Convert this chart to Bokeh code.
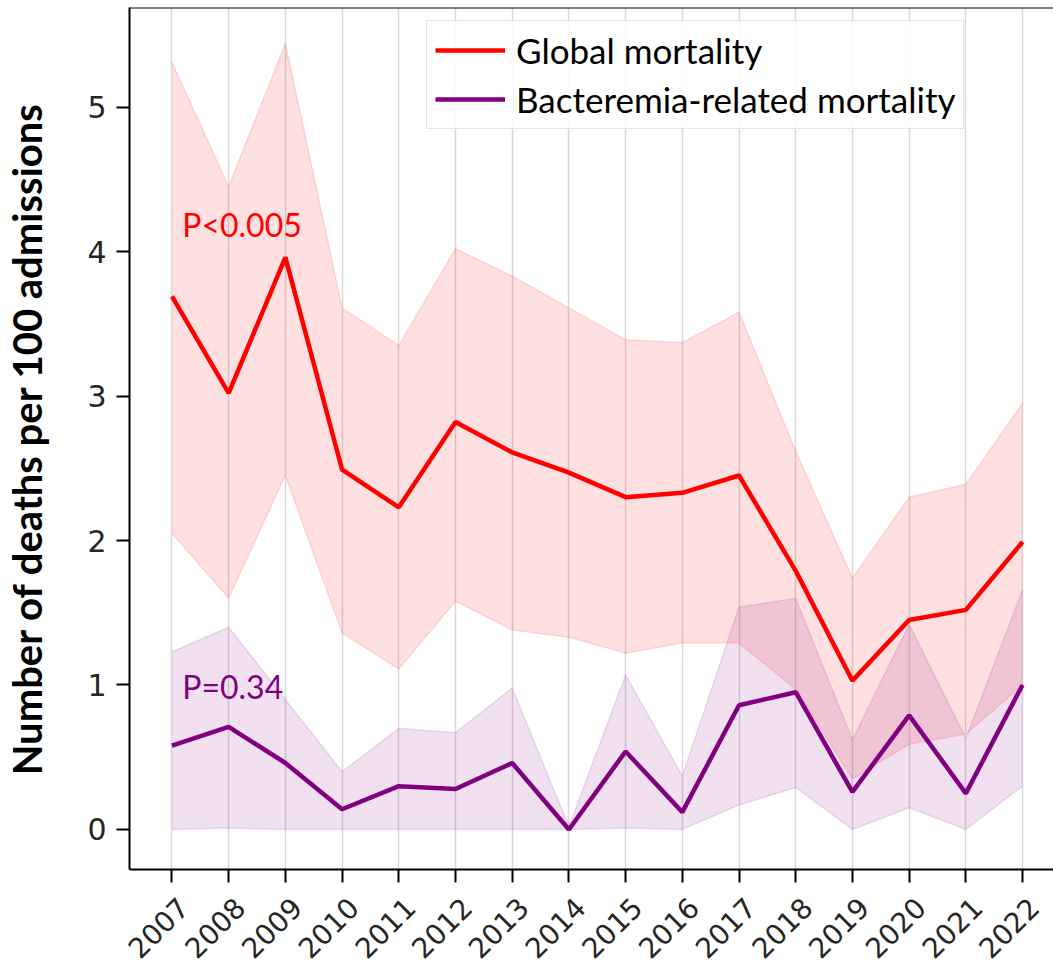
import math
from bokeh.plotting import figure
from bokeh.models import (ColumnDataSource, Range1d, FixedTicker, Span, Label,
                          LinearAxis, Legend, LegendItem)
from bokeh.embed import file_html
from bokeh.resources import INLINE

# ---------------- data ----------------
years = [2007, 2008, 2009, 2010, 2011, 2012, 2013, 2014,
         2015, 2016, 2017, 2018, 2019, 2020, 2021, 2022]
year_labels = [str(y) for y in years]

global_mort = [3.69, 3.02, 3.96, 2.49, 2.23, 2.82, 2.61, 2.47,
               2.30, 2.33, 2.45, 1.79, 1.03, 1.45, 1.52, 1.99]
global_upper = [5.31, 4.45, 5.44, 3.61, 3.35, 4.02, 3.83, 3.61,
                3.39, 3.37, 3.58, 2.62, 1.74, 2.30, 2.39, 2.95]
global_lower = [2.05, 1.60, 2.45, 1.36, 1.11, 1.58, 1.38, 1.33,
                1.22, 1.29, 1.29, 0.97, 0.35, 0.59, 0.66, 1.00]

bact_mort = [0.58, 0.71, 0.46, 0.14, 0.30, 0.28, 0.46, 0.00,
             0.54, 0.12, 0.86, 0.95, 0.26, 0.79, 0.25, 1.00]
bact_upper = [1.23, 1.40, 0.90, 0.40, 0.70, 0.67, 0.98, 0.02,
              1.07, 0.37, 1.54, 1.60, 0.62, 1.42, 0.63, 1.66]
bact_lower = [0.00, 0.01, 0.00, 0.00, 0.00, 0.00, 0.00, 0.00,
              0.01, 0.00, 0.17, 0.29, 0.00, 0.15, 0.00, 0.30]

y_ticks = [0, 1, 2, 3, 4, 5]

RED = "#ff0000"
PURPLE = "#800080"

src = ColumnDataSource(dict(
    year=years, g=global_mort, gu=global_upper, gl=global_lower,
    b=bact_mort, bu=bact_upper, bl=bact_lower))

x_start, x_end = 2006.251, 2022.546
y_start, y_end = -0.277, 5.689

p = figure(width=1053, height=970, output_backend="svg", toolbar_location=None,
           x_range=Range1d(x_start, x_end), y_range=Range1d(y_start, y_end),
           min_border_left=128, min_border_right=0, min_border_top=7,
           min_border_bottom=100)
p.background_fill_color = "white"
p.border_fill_color = "white"
p.outline_line_color = None

# grid: vertical only
p.ygrid.grid_line_color = None
p.xgrid.ticker = FixedTicker(ticks=years)
p.xgrid.grid_line_color = "#d9d9d9"
p.xgrid.grid_line_width = 1.5

# axes (main x axis carries only the tick marks; labels are on the axis below)
p.xaxis.ticker = FixedTicker(ticks=years)
p.xaxis.major_label_text_font_size = "1px"
p.xaxis.major_label_text_color = None
p.xaxis.major_label_standoff = 0
p.yaxis.ticker = FixedTicker(ticks=y_ticks)
for ax in (p.xaxis[0], p.yaxis[0]):
    ax.axis_line_color = "black"
    ax.axis_line_width = 2
    ax.major_tick_line_color = "black"
    ax.major_tick_line_width = 2
    ax.major_tick_out = 13
    ax.major_tick_in = 0
    ax.minor_tick_line_color = None
p.yaxis.major_label_text_font = "DejaVu Sans"
p.yaxis.major_label_text_font_size = "30px"
p.yaxis.major_label_text_color = "#262626"
p.yaxis.major_label_standoff = 10
p.yaxis.axis_label = "Number of deaths per 100 admissions"
p.yaxis.axis_label_text_font = "Lato"
p.yaxis.axis_label_text_font_style = "bold"
p.yaxis.axis_label_text_font_size = "40px"
p.yaxis.axis_label_text_color = "black"
p.yaxis.axis_label_standoff = 33

# rotated year labels, centred under the ticks (second axis, ticks hidden)
shift = 0.20
lab_axis = LinearAxis(
    ticker=FixedTicker(ticks=[y + shift for y in years]),
    major_label_overrides={y + shift: t for y, t in zip(years, year_labels)},
    major_label_orientation=math.pi / 4,
    major_label_text_font="DejaVu Sans", major_label_text_font_size="28px",
    major_label_text_color="#262626", major_label_standoff=20,
    axis_line_color=None, major_tick_line_color=None, minor_tick_line_color=None,
    major_tick_out=0, major_tick_in=0)
p.add_layout(lab_axis, "below")

# top spine
p.add_layout(Span(location=y_end, dimension="width", line_color="black",
                  line_width=2))

# bands
p.varea(x="year", y1="gl", y2="gu", source=src, fill_color=RED, fill_alpha=0.12)
p.line(x="year", y="gu", source=src, line_color=RED, line_alpha=0.12, line_width=1.5)
p.line(x="year", y="gl", source=src, line_color=RED, line_alpha=0.12, line_width=1.5)
p.varea(x="year", y1="bl", y2="bu", source=src, fill_color=PURPLE, fill_alpha=0.12)
p.line(x="year", y="bu", source=src, line_color=PURPLE, line_alpha=0.12, line_width=1.5)
p.line(x="year", y="bl", source=src, line_color=PURPLE, line_alpha=0.12, line_width=1.5)

# main lines
r_g = p.line(x="year", y="g", source=src, line_color=RED, line_width=4.5)
r_b = p.line(x="year", y="b", source=src, line_color=PURPLE, line_width=4.5)

# annotations
p.add_layout(Label(x=2007.18, y=4.19, text="P<0.005", text_color=RED,
                   text_font="Lato", text_font_size="32px",
                   text_baseline="alphabetic"))
p.add_layout(Label(x=2007.18, y=0.99, text="P=0.34", text_color=PURPLE,
                   text_font="Lato", text_font_size="32px",
                   text_baseline="alphabetic"))

# legend
legend = Legend(items=[LegendItem(label="Global mortality", renderers=[r_g]),
                       LegendItem(label="Bacteremia-related mortality", renderers=[r_b])],
                location=(297, 740))
legend.label_text_font = "Lato"
legend.label_text_font_size = "35px"
legend.label_text_color = "black"
legend.glyph_width = 70
legend.glyph_height = 40
legend.label_height = 40
legend.label_standoff = 11
legend.spacing = 7
legend.padding = 8
legend.margin = 0
legend.border_line_color = "#cccccc"
legend.border_line_width = 1.5
legend.background_fill_alpha = 0.85
p.add_layout(legend)

open("out.html", "w").write(file_html(p, INLINE))
